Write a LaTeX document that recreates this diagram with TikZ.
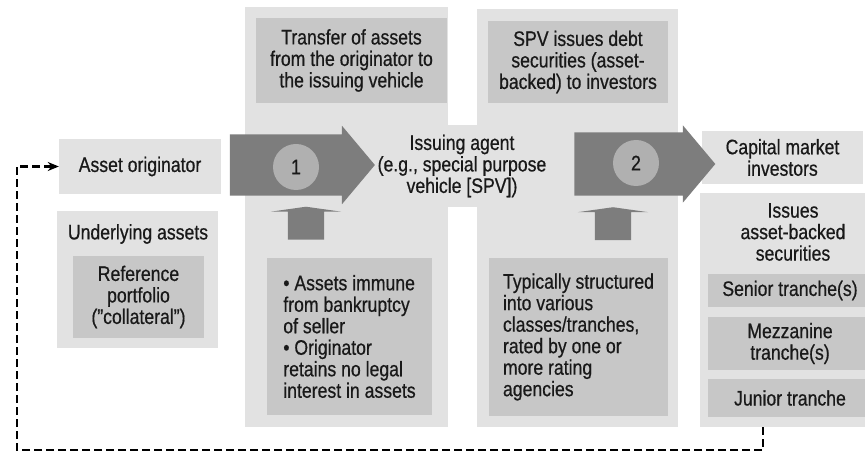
\documentclass[tikz,border=0pt]{standalone}
\usepackage{fontspec}
\setmainfont{Liberation Sans}[FakeStretch=0.84, FakeBold=0.6]
\usetikzlibrary{shapes.arrows,arrows.meta}
\definecolor{panelgray}{gray}{0.885}
\definecolor{boxgray}{gray}{0.78}
\definecolor{arrowgray}{gray}{0.49}
\definecolor{circlegray}{gray}{0.69}

\begin{document}
\begin{tikzpicture}[x=1pt, y=-1pt,
    every node/.style = {inner sep=0pt, align=center, text=black!90,
        font=\fontsize{21}{21.5}\selectfont},
    panel/.style = {rectangle, fill=panelgray},
    box/.style = {rectangle, fill=boxgray},
    bigarrow/.style = {single arrow, fill=arrowgray, single arrow tip angle=100,
        inner xsep=0pt},
    uparrow/.style = {single arrow, fill=arrowgray, shape border rotate=90,
        single arrow tip angle=164, minimum height=33, inner xsep=18pt,
        inner ysep=0pt, single arrow head extend=17},
    num/.style = {circle, fill=circlegray, minimum size=46},
    feedback/.style = {line width=2.6pt, dash pattern=on 8pt off 4pt,
        -{Stealth[length=11pt,width=9pt]}}]
\useasboundingbox (0,0) rectangle (865,454);
\clip (0,0) rectangle (865,454);

% panels
\node[panel, minimum width=203, minimum height=420] (P1) at (346.5,217) {};
\node[panel, minimum width=201, minimum height=418] (P2) at (577.5,218) {};
\node[panel, minimum width=200, minimum height=82] (I) at (462,166)
    {Issuing agent\\(e.g., special purpose\\vehicle [SPV])};
\node[panel, minimum width=162, minimum height=55] (AO) at (140,166.5) {Asset originator};
\node[panel, minimum width=161, minimum height=137] (U) at (137.5,279.5) {};
\node[panel, minimum width=161, minimum height=53] (C) at (782.5,157.5) {Capital market\\investors};
\node[panel, minimum width=172, minimum height=234] (IP) at (786,310) {};

% boxes
\node[box, minimum width=191, minimum height=85] (T) at (351.5,60.5)
    {Transfer of assets\\from the originator to\\the issuing vehicle};
\node[box, minimum width=180, minimum height=82] (S) at (578,62)
    {SPV issues debt\\securities (asset-\\backed) to investors};
\node[box, minimum width=165, minimum height=157, align=left] (B) at (349.5,336.5)
    {\textbullet\ Assets immune\\from bankruptcy\\of seller\\\textbullet\ Originator\\retains no legal\\interest in assets};
\node[box, minimum width=179, minimum height=158, align=left] (Ty) at (578.5,337)
    {Typically structured\\into various\\classes/tranches,\\rated by one or\\more rating\\agencies};
\node[box, minimum width=131, minimum height=82] (R) at (138.5,297)
    {Reference\\portfolio\\(''collateral'')};
\node[box, minimum width=164, minimum height=33] (Sn) at (790,290.5) {Senior tranche(s)};
\node[box, minimum width=164, minimum height=53] (Mz) at (790,343.5) {Mezzanine\\tranche(s)};
\node[box, minimum width=164, minimum height=38] (J) at (790,398) {Junior tranche};

% panel titles
\node (ul) at (138,234) {Underlying assets};
\node (is) at (793,232) {Issues\\asset-backed\\securities};

% arrows
\node[bigarrow, minimum height=145, inner ysep=30.5pt, single arrow head extend=8.5] (A1) at (289.5,165) {};
\node[bigarrow, minimum height=141, inner ysep=31.5pt, single arrow head extend=7] (A2) at (631.5,164) {};
\node[uparrow] (U1) at (306,224.5) {};
\node[uparrow] (U2) at (613,225) {};
\node[num] (N1) at (296,167) {1};
\node[num] (N2) at (636,163) {2};

% feedback loop
\coordinate (fs) at (763,427);
\coordinate (fb) at (17,450);
\draw[feedback] (fs) |- (fb) |- (AO.west);

\end{tikzpicture}
\end{document}
